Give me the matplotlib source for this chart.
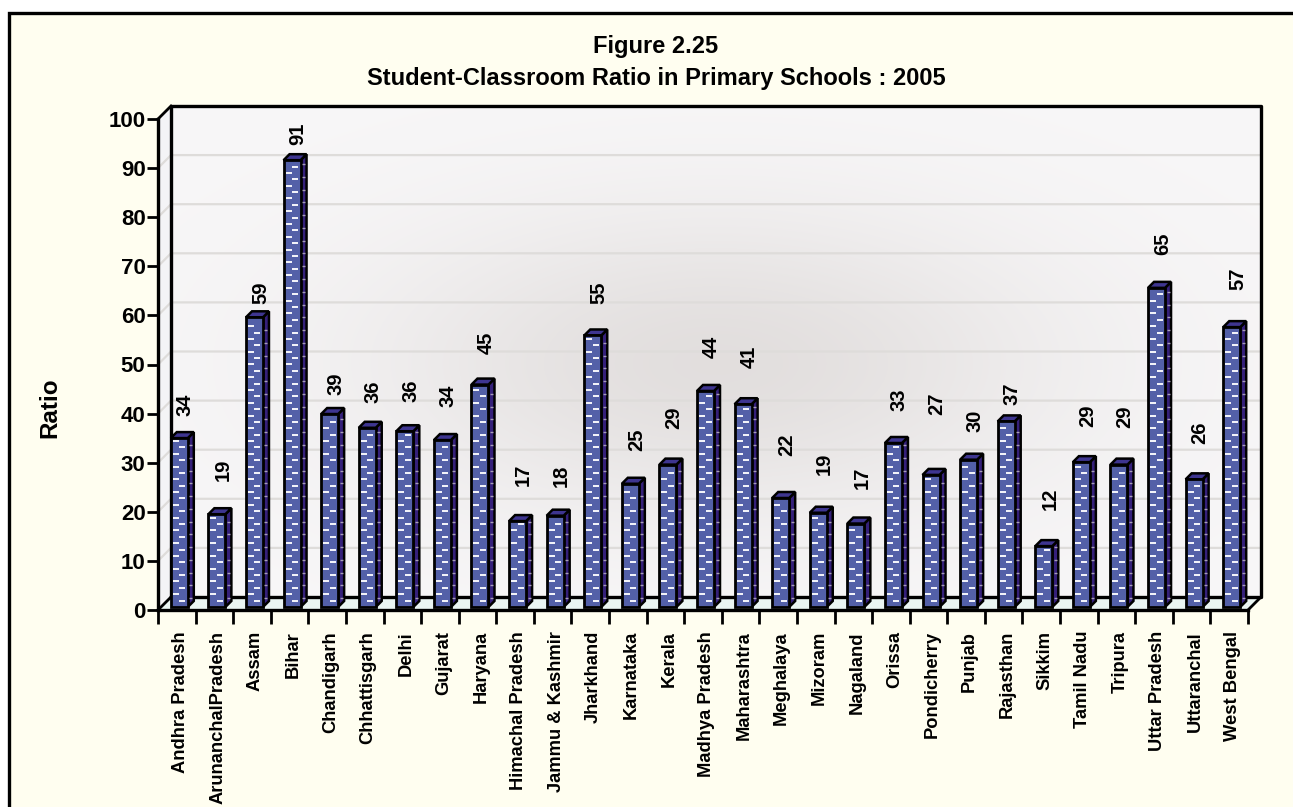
import numpy as np
import matplotlib
matplotlib.use("Agg")
import matplotlib.pyplot as plt
from matplotlib.patches import Polygon, Rectangle

plt.rcParams['font.family'] = ['Liberation Sans', 'DejaVu Sans']

states = ["Andhra Pradesh", "ArunanchalPradesh", "Assam", "Bihar", "Chandigarh", "Chhattisgarh",
          "Delhi", "Gujarat", "Haryana", "Himachal Pradesh", "Jammu & Kashmir", "Jharkhand",
          "Karnataka", "Kerala", "Madhya Pradesh", "Maharashtra", "Meghalaya", "Mizoram",
          "Nagaland", "Orissa", "Pondicherry", "Punjab", "Rajasthan", "Sikkim", "Tamil Nadu",
          "Tripura", "Uttar Pradesh", "Uttaranchal", "West Bengal"]
ratio = [34.4, 18.9, 59, 91, 39.3, 36.5, 35.8, 34, 45.3, 17.5, 18.6, 55.3, 25.1, 29, 44, 41.3,
         22.2, 19.2, 17, 33.4, 26.9, 30, 37.8, 12.4, 29.5, 29, 65, 26, 57]
ratio_labels = [34, 19, 59, 91, 39, 36, 36, 34, 45, 17, 18, 55, 25, 29, 44, 41,
                22, 19, 17, 33, 27, 30, 37, 12, 29, 29, 65, 26, 57]
# gap from bar top to label centre, pixels
label_gap = [33, 44, 25, 26, 30, 36, 40, 44, 42, 46, 40, 43, 44, 47, 44, 47,
             53, 49, 46, 43, 71, 39, 28, 47, 46, 48, 44, 47, 48]
yticks = list(range(0, 101, 10))

W, H = 1293, 807
fig = plt.figure(figsize=(W / 100, H / 100), dpi=100, facecolor='white')

# whole-figure layer in pixels for the frame, no right edge, runs off the page
bg = fig.add_axes([0, 0, 1, 1])
bg.set_xlim(0, W)
bg.set_ylim(H, 0)
bg.axis('off')
bg.add_patch(Rectangle((9, 12.5), W + 50, H, fc='#FFFEF0', ec='black', lw=2.4))

# main axes = front plane of the fake 3D box
x0, x1, y0, y1 = 158, 1248, 610, 119
ax = fig.add_axes([x0 / W, 1 - y0 / H, (x1 - x0) / W, (y0 - y1) / H])
ax.patch.set_alpha(0)
n = len(states)
ux = (x1 - x0) / n
uy = (y0 - y1) / 100
dx = 13 / ux
dy = 13 / uy

# back wall with soft grey shading in the middle
gx, gy = np.meshgrid(np.linspace(-1, 1, 300), np.linspace(-1, 1, 200))
shade = np.exp(-(gx ** 2 / 0.4 + (gy - 0.05) ** 2 / 0.4))
wall = np.dstack([0.972 - 0.085 * shade, 0.968 - 0.095 * shade, 0.972 - 0.102 * shade])
ax.imshow(wall, extent=(dx, n + dx, dy, 100 + dy), aspect='auto', zorder=0, clip_on=False,
          interpolation='bilinear')
ax.set_xlim(0, n)
ax.set_ylim(0, 100)

# left side wall and floor
ax.add_patch(Polygon([(0, 0), (dx, dy), (dx, 100 + dy), (0, 100)], fc='#F4F4F6', ec='none', zorder=1, clip_on=False))
ax.add_patch(Polygon([(0, 0), (dx, dy), (n + dx, dy), (n, 0)], fc='#EAF5F2', ec='none', zorder=1, clip_on=False))

# gridlines
for t in yticks[1:]:
    ax.plot([0, dx, n + dx], [t, t + dy, t + dy], color='#DEDCDA', lw=1.6, zorder=1.5, clip_on=False)

# box edges
ax.plot([dx, dx, n + dx, n + dx, dx], [dy, 100 + dy, 100 + dy, dy, dy], color='black', lw=2.4, zorder=2, clip_on=False)
ax.plot([0, dx], [100, 100 + dy], color='black', lw=2, zorder=2, clip_on=False)
ax.plot([0, dx], [0, dy], color='black', lw=2, zorder=2, clip_on=False)
ax.plot([n, n + dx], [0, dy], color='black', lw=2, zorder=2, clip_on=False)

# bars: front, side, top
bw = 17 / ux
depth_x, depth_y = 6 / ux, 6 / uy
base = 3 / uy
off = 2.5 / ux
xs = np.arange(n) + 0.5 + off
ax.bar(xs, ratio, width=bw, bottom=base, color='#5360A8', edgecolor='black', lw=2, zorder=4, clip_on=False)
for i, v in enumerate(ratio):
    l, r = xs[i] - bw / 2, xs[i] + bw / 2
    top = v + base
    ax.add_patch(Polygon([(r, base), (r + depth_x, base + depth_y), (r + depth_x, top + depth_y), (r, top)],
                         fc='#35207A', ec='black', lw=1.8, zorder=3, clip_on=False))
    ax.add_patch(Polygon([(l, top), (l + depth_x, top + depth_y), (r + depth_x, top + depth_y), (r, top)],
                         fc='#3E3590', ec='black', lw=1.8, zorder=3, clip_on=False))
    # white dash pattern on the bar
    lev = np.arange(base + 1.3, top - 0.5, 1.3)
    for k, yy in enumerate(lev):
        cx = xs[i] + (-3.5 if k % 2 else 3) / ux
        ax.plot([cx - 3 / ux, cx + 3 / ux], [yy, yy], color='#F6F7FC', lw=1.4, zorder=5, solid_capstyle='butt', clip_on=False)
    for yy in lev[::2]:
        ax.plot([r + 1.5 / ux, r + 4.5 / ux], [yy + 0.5, yy + 0.5], color='#A79DB8', lw=1, zorder=5, solid_capstyle='butt', clip_on=False)
    ax.text(xs[i] + 6 / ux, top + label_gap[i] / uy, str(ratio_labels[i]), rotation=90, ha='center', va='center',
            fontsize=14.5, fontweight='bold', zorder=6, clip_on=False)

# axes look
for s in ['top', 'right']:
    ax.spines[s].set_visible(False)
for s in ['left', 'bottom']:
    ax.spines[s].set_linewidth(2.4)
    ax.spines[s].set_zorder(6)
ax.set_yticks(yticks)
ax.set_yticklabels(yticks, fontsize=16, fontweight='bold')
ax.set_xticks(np.arange(n + 1))
ax.set_xticklabels([])
ax.tick_params(axis='y', length=8, width=2, pad=1)
ax.tick_params(axis='x', length=10, width=2)

for i, s in enumerate(states):
    ax.annotate(s, (i + 0.5, 0), xytext=(3.5, -21), textcoords='offset pixels', rotation=90,
                ha='center', va='top', fontsize=13.2, fontweight='bold', annotation_clip=False)

bg.text(656, 47, "Figure 2.25", ha='center', va='center', fontsize=17, fontweight='bold')
bg.text(656, 79, "Student-Classroom Ratio in Primary Schools : 2005", ha='center', va='center', fontsize=17, fontweight='bold')
bg.text(50, 408, "Ratio", rotation=90, ha='center', va='center', fontsize=17.5, fontweight='bold')

fig.savefig("out.png", dpi=100, facecolor='white')
